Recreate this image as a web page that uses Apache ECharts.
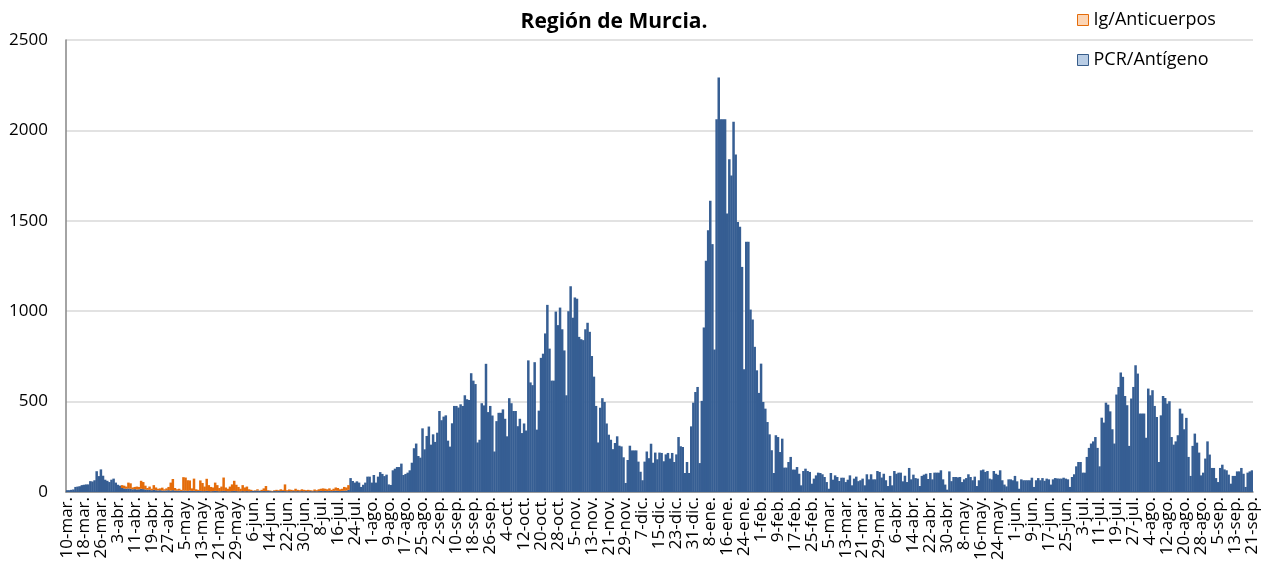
<!DOCTYPE html>
<html>
<head>
<meta charset="utf-8">
<script src="https://cdn.jsdelivr.net/npm/echarts@6/dist/echarts.min.js"></script>
<style>
html, body { margin: 0; padding: 0; background: #fff; }
#chart { width: 1274px; height: 575px; }
</style>
</head>
<body>
<div id="chart"></div>
<script>
// casos diarios desde el 10-mar-2020 (un valor por día)
const pcr = [
  // mar-abr 2020
  10,10,12,14,28,30,32,38,40,42,42,60,58,65,115,88,125,90,68,62,55,68,74,52,40,35,
  22,20,18,20,18,15,16,14,15,18,16,14,12,12,10,12,10,9,10,8,
  8,9,10,8,10,8,7,8,6,8,7,6,8,6,7,5,6,6,5,5,
  6,5,4,5,6,5,4,5,6,5,4,4,5,6,5,4,4,5,4,5,
  4,5,6,7,8,6,5,6,5,6,5,4,6,5,6,5,6,5,4,5,
  4,5,4,5,4,5,4,5,4,5,4,5,4,5,6,5,6,5,6,5,
  6,7,6,5,6,7,8,12,
  // jul-sep 2020
  77,61,52,59,52,28,40,52,85,85,52,94,52,85,110,100,88,96,42,39,
  120,129,138,138,157,94,100,107,120,162,242,268,199,190,352,236,310,362,262,319,
  277,328,448,397,417,424,284,251,380,476,476,467,
  485,476,535,513,509,657,616,597,274,289,491,479,709,442,476,423,224,392,438,438,
  457,405,308,519,491,448,448,364,405,326,379,340,728,606,591,718,345,450,742,765,
  877,1035,793,616,616,998,923,1020,900,783,535,1000,1138,
  // nov-dic 2020
  964,1076,1069,858,845,840,900,936,886,752,638,476,274,466,519,498,379,317,289,237,
  271,308,256,252,192,50,177,256,230,230,230,168,112,65,168,224,187,267,162,218,
  181,218,
  216,170,208,216,185,216,166,208,304,253,249,105,166,105,363,494,553,581,160,504,
  910,1279,1448,1611,1371,788,2061,2293,
  // ene-mar 2021
  2061,2061,2061,1540,1840,1750,2048,1867,1494,1467,1245,679,1384,1384,1009,954,803,673,548,710,
  498,461,387,319,231,105,314,304,221,295,135,135,166,194,124,124,138,101,37,116,
  129,116,111,46,74,92,107,105,98,83,55,18,105,68,92,83,61,79,79,55,
  68,92,37,74,85,60,
  // mar-jun 2021
  65,74,37,98,70,98,70,70,116,111,80,101,65,33,89,37,116,101,107,107,59,90,
  55,133,70,96,77,74,33,89,96,101,72,105,70,107,107,107,120,70,41,13,114,60,
  83,83,81,83,55,70,77,98,83,65,85,33,65,120,124,111,116,74,70,116,101,95,
  120,65,41,31,70,70,65,89,59,18,70,65,65,65,65,79,28,65,77,65,77,62,
  74,70,41,70,77,75,
  // jun-sep 2021
  74,74,79,74,70,28,83,98,142,166,166,107,107,194,244,268,280,304,244,142,
  411,384,494,483,446,347,268,539,581,661,637,531,480,255,517,581,701,655,434,434,
  434,300,572,535,563,476,415,166,424,531,520,489,502,304,262,280,314,461,434,347,
  410,194,89,255,323,273,218,92,107,185,280,207,133,133,77,55,133,151,125,120,
  96,46,89,89,114,114,133,101,28,107,114,120
];

// Ig/Anticuerpos: solo se notifica entre el 5-abr y el 21-jul de 2020
const igDesde = 26;
const ig = [
  16,15,12,32,30,10,12,16,13,44,39,21,10,18,8,26,15,9,10,16,
  7,11,18,44,62,14,8,10,6,74,73,59,56,14,67,10,6,58,45,25,
  67,33,24,20,46,33,18,25,74,20,14,26,37,56,35,24,14,33,21,25,
  11,7,2,3,7,2,7,14,28,4,3,2,4,7,4,10,6,37,6,9,
  8,5,14,7,6,10,8,5,8,5,4,9,6,10,12,15,12,10,14,7,
  12,18,16,10,12,21,17,26
];

const meses = ['ene','feb','mar','abr','may','jun','jul','ago','sep','oct','nov','dic'];
const inicio = Date.UTC(2020, 2, 10);
const fechas = pcr.map((_, i) => {
  const d = new Date(inicio + i * 86400000);
  return d.getUTCDate() + '-' + meses[d.getUTCMonth()] + '.';
});
const igSerie = pcr.map((_, i) => {
  const v = ig[i - igDesde];
  return v === undefined ? 0 : v;
});

const fuente = '"Open Sans", sans-serif';
const myChart = echarts.init(document.getElementById('chart'));
myChart.setOption({
  animation: false,
  title: {
    text: 'Región de Murcia.',
    left: 609,
    textAlign: 'center',
    top: 7,
    textStyle: { fontFamily: fuente, fontSize: 21, fontWeight: 'bold', color: '#000' }
  },
  legend: {
    orient: 'vertical',
    left: 1072,
    top: 6,
    itemGap: 22,
    itemWidth: 11,
    itemHeight: 11,
    icon: 'rect',
    textStyle: { fontFamily: fuente, fontSize: 18, color: '#000' },
    data: [
      { name: 'Ig/Anticuerpos', itemStyle: { color: '#fcd5b5', borderColor: '#e46c0a', borderWidth: 1 } },
      { name: 'PCR/Antígeno', itemStyle: { color: '#b9cde5', borderColor: '#385d8a', borderWidth: 1 } }
    ]
  },
  grid: { left: 66, right: 21, top: 40, bottom: 83 },
  xAxis: {
    type: 'category',
    data: fechas,
    axisLine: { lineStyle: { color: '#868686', width: 1.5 } },
    axisTick: { interval: 7, length: 5, lineStyle: { color: '#868686' } },
    axisLabel: {
      interval: 7, rotate: 90, showMinLabel: true, showMaxLabel: true,
      fontFamily: fuente, fontSize: 17, color: '#000', margin: 5
    }
  },
  yAxis: {
    type: 'value',
    min: 0,
    max: 2500,
    interval: 500,
    axisLine: { show: true, lineStyle: { color: '#868686', width: 1.5 } },
    axisTick: { show: false },
    axisLabel: { fontFamily: fuente, fontSize: 17, color: '#000', margin: 18, formatter: v => String(v) },
    splitLine: { lineStyle: { color: '#d9d9d9', width: 1.5 } }
  },
  series: [
    {
      name: 'PCR/Antígeno',
      type: 'bar',
      stack: 'total',
      barWidth: 2.5,
      itemStyle: { color: '#365e93' },
      data: pcr
    },
    {
      name: 'Ig/Anticuerpos',
      type: 'bar',
      stack: 'total',
      barWidth: 2.5,
      itemStyle: { color: '#e46c0a' },
      data: igSerie
    }
  ]
});
</script>
</body>
</html>
